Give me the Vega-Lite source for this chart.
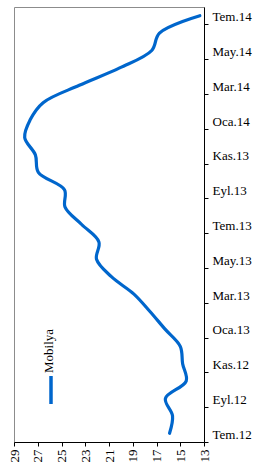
{
  "$schema": "https://vega.github.io/schema/vega-lite/v6.json",
  "width": 190,
  "height": 435,
  "autosize": {"type": "none"},
  "padding": {"left": 14, "top": 7, "right": 53, "bottom": 27},
  "background": "white",
  "config": {"view": {"stroke": "#8c8c8c", "strokeWidth": 1}, "font": "Liberation Serif"},
  "data": {"values": [
    {"m": "Tem.12", "d": "2012-07-01", "v": 15.9},
    {"m": "Ağu.12", "d": "2012-08-01", "v": 15.65},
    {"m": "Eyl.12", "d": "2012-09-01", "v": 16.25},
    {"m": "Eki.12", "d": "2012-10-01", "v": 14.5},
    {"m": "Kas.12", "d": "2012-11-01", "v": 14.8},
    {"m": "Ara.12", "d": "2012-12-01", "v": 15.0},
    {"m": "Oca.13", "d": "2013-01-01", "v": 16.3},
    {"m": "Şub.13", "d": "2013-02-01", "v": 17.55},
    {"m": "Mar.13", "d": "2013-03-01", "v": 18.9},
    {"m": "Nis.13", "d": "2013-04-01", "v": 20.8},
    {"m": "May.13", "d": "2013-05-01", "v": 22.05},
    {"m": "Haz.13", "d": "2013-06-01", "v": 21.85},
    {"m": "Tem.13", "d": "2013-07-01", "v": 23.3},
    {"m": "Ağu.13", "d": "2013-08-01", "v": 24.7},
    {"m": "Eyl.13", "d": "2013-09-01", "v": 24.75},
    {"m": "Eki.13", "d": "2013-10-01", "v": 26.95},
    {"m": "Kas.13", "d": "2013-11-01", "v": 27.2},
    {"m": "Ara.13", "d": "2013-12-01", "v": 28.1},
    {"m": "Oca.14", "d": "2014-01-01", "v": 27.65},
    {"m": "Şub.14", "d": "2014-02-01", "v": 26.55},
    {"m": "Mar.14", "d": "2014-03-01", "v": 23.5},
    {"m": "Nis.14", "d": "2014-04-01", "v": 20.1},
    {"m": "May.14", "d": "2014-05-01", "v": 17.4},
    {"m": "Haz.14", "d": "2014-06-01", "v": 16.75},
    {"m": "Tem.14", "d": "2014-07-01", "v": 13.35}
  ]},
  "mark": {"type": "line", "interpolate": "catmull-rom", "strokeWidth": 3.2, "strokeCap": "round"},
  "encoding": {
    "x": {
      "field": "v", "type": "quantitative",
      "scale": {"domain": [13, 29], "reverse": true, "nice": false, "zero": false},
      "axis": {
        "values": [13, 15, 17, 19, 21, 23, 25, 27, 29],
        "labelAngle": 270, "labelFont": "Liberation Serif", "labelFontSize": 13,
        "labelColor": "black", "domainColor": "black", "tickColor": "black",
        "tickSize": 4, "labelPadding": 3, "grid": false, "title": null
      }
    },
    "y": {
      "field": "m", "type": "ordinal",
      "sort": ["Tem.14","Haz.14","May.14","Nis.14","Mar.14","Şub.14","Oca.14","Ara.13","Kas.13","Eki.13","Eyl.13","Ağu.13","Tem.13","Haz.13","May.13","Nis.13","Mar.13","Şub.13","Oca.13","Ara.12","Kas.12","Eki.12","Eyl.12","Ağu.12","Tem.12"],
      "scale": {"type": "point", "padding": 0.5},
      "axis": {
        "orient": "right",
        "values": ["Tem.14","May.14","Mar.14","Oca.14","Kas.13","Eyl.13","Tem.13","May.13","Mar.13","Oca.13","Kas.12","Eyl.12","Tem.12"],
        "tickOffset": 8.7, "labelOffset": -7.7,
        "labelFont": "Liberation Serif", "labelFontSize": 13, "labelColor": "black",
        "domainColor": "black", "tickColor": "black", "tickSize": 4, "labelPadding": 4,
        "grid": false, "title": null
      }
    },
    "color": {
      "datum": "Mobilya", "type": "nominal",
      "scale": {"range": ["#0066CC"]},
      "legend": {
        "orient": "none", "legendX": 21, "legendY": 367, "title": null, "padding": 0,
        "symbolType": "M0,-1L0,1", "symbolSize": 784, "symbolStrokeWidth": 3.5,
        "labelFont": "Liberation Serif", "labelFontSize": 13, "labelColor": "black",
        "encode": {
          "labels": {"update": {"x": {"value": 14}, "y": {"value": -1}, "angle": {"value": 270}, "align": {"value": "left"}, "baseline": {"value": "middle"}}}
        }
      }
    },
    "order": {"field": "d", "type": "temporal"}
  }
}
